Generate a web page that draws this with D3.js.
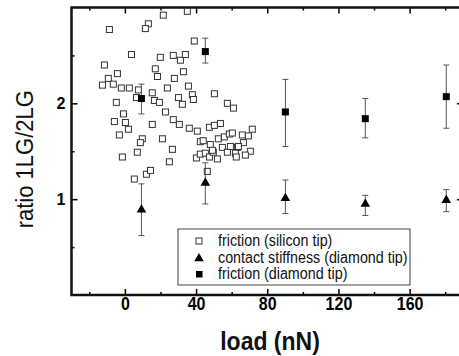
<!DOCTYPE html>
<head>
  <meta charset="utf-8">
  <style>
    body { margin: 0; background: #fff; }
    svg { display: block; font-family: Arial, "Liberation Sans", sans-serif; }
  </style>
  <script src="https://cdn.jsdelivr.net/npm/d3@7"></script>
</head>
<body>
<div id="chart"></div>
<script>
// friction, silicon tip (open squares)
const siliconLoad = [21.6, 35.1, 13.2, 11.5, -8.7, 39.0, 3.7, 19.9, 27.2, 31.2, 34.0, -11.5, 17.1, 18.3, 32.9, -4.2,
  -9.3, 27.8, -12.6, -6.5, -2.0, 2.5, 7.6, 15.4, 23.9, 35.7, 37.9, 50.3, 6.5, 16.6, 19.4, 30.1, 32.3, 38.5, 57.6,
  -4.8, -0.8, 22.8, -5.9, 0.3, 15.4, 27.2, 30.6, 36.2, 40.7, 47.5, 50.3, 53.7, 2.0, -3.1, 9.8, 8.7, 21.1, 42.4,
  48.0, 52.5, 55.9, 58.7, 7.0, 26.7, -1.4, 25.0, 40.2, 42.4, 45.2, 47.5, 52.0, 49.7, 54.8, 57.6, 12.1, 5.3, 46.3,
  61.0, 60.4, 66.0, 69.4, 71.6, 66.6, 63.2, 70.5, 67.7, 62.1, 62.6, 59.3, 63.8, 49.2, 14.4, 44.0]
const siliconRatio = [2.92, 2.96, 2.83, 2.78, 2.77, 2.65, 2.51, 2.48, 2.50, 2.45, 2.51, 2.40, 2.36, 2.28, 2.33, 2.31,
  2.26, 2.26, 2.19, 2.20, 2.16, 2.16, 2.14, 2.11, 2.16, 2.18, 2.09, 2.10, 2.06, 2.03, 2.01, 2.06, 1.99, 2.04, 2.00,
  2.01, 1.89, 1.91, 1.81, 1.80, 1.78, 1.83, 1.78, 1.74, 1.71, 1.75, 1.77, 1.79, 1.73, 1.67, 1.63, 1.59, 1.63, 1.60,
  1.57, 1.63, 1.65, 1.68, 1.49, 1.52, 1.44, 1.39, 1.43, 1.47, 1.48, 1.44, 1.42, 1.49, 1.54, 1.49, 1.26, 1.21, 1.29,
  1.95, 1.69, 1.67, 1.66, 1.73, 1.59, 1.54, 1.50, 1.46, 1.48, 1.44, 1.55, 1.55, 1.51, 1.30, 1.61]

// contact stiffness, diamond tip (triangles)
const stiffLoad = [9.3, 45.2, 90.2, 135.1, 180.6]
const stiffRatio = [0.90, 1.18, 1.02, 0.96, 1.00]
const stiffLow = [0.62, 0.95, 0.85, 0.83, 0.87]
const stiffHigh = [1.16, 1.38, 1.20, 1.04, 1.10]

// friction, diamond tip (filled squares)
const diaLoad = [9.3, 45.2, 90.2, 135.1, 180.6]
const diaRatio = [2.05, 2.54, 1.91, 1.84, 2.07]
const diaLow = [1.89, 2.42, 1.55, 1.64, 1.74]
const diaHigh = [2.20, 2.68, 2.25, 2.05, 2.40]

const xMajor = [0, 40, 80, 120, 160]
const xMinor = [-20, 20, 60, 100, 140, 180]
const yMajor = [1, 2]
const yMinor = [0.5, 1.5, 2.5]
const legendLabels = ['friction (silicon tip)', 'contact stiffness (diamond tip)', 'friction (diamond tip)']

const width = 459, height = 356
const x = d3.scaleLinear().domain([-30, 190]).range([71.5, 463])
const y = d3.scaleLinear().domain([0, 3]).range([295, 7.5])

const svg = d3.select('#chart').append('svg')
  .attr('width', width).attr('height', height)
  .attr('viewBox', [0, 0, width, height])

// the original text is a bit taller than wide
const stretch = 1.12

// axes, ticks pointing inward
const strip = g => g.call(g => g.select('.domain').remove())
const tickStyle = g => g.selectAll('.tick line').attr('stroke', '#000').attr('stroke-width', 1.5)
const labelStyle = g => g.selectAll('text')
  .attr('font-size', 16).attr('font-weight', 'bold').attr('fill', '#000')

svg.append('g').attr('transform', `translate(0,${y(0)})`)
  .call(d3.axisBottom(x).tickValues(xMajor).tickSize(-6).tickPadding(2))
  .call(strip).call(tickStyle).call(labelStyle)
  .call(g => g.selectAll('text').attr('transform', `scale(1,${stretch})`))
svg.append('g').attr('transform', `translate(0,${y(0)})`)
  .call(d3.axisBottom(x).tickValues(xMinor).tickSize(-3).tickFormat(''))
  .call(strip).call(tickStyle)
svg.append('g').attr('transform', `translate(0,${y(3)})`)
  .call(d3.axisTop(x).tickValues(xMajor).tickSize(-6).tickFormat(''))
  .call(strip).call(tickStyle)
svg.append('g').attr('transform', `translate(0,${y(3)})`)
  .call(d3.axisTop(x).tickValues(xMinor).tickSize(-3).tickFormat(''))
  .call(strip).call(tickStyle)

svg.append('g').attr('transform', `translate(${x(-30)},0)`)
  .call(d3.axisLeft(y).tickValues(yMajor).tickSize(-6).tickPadding(6).tickFormat(d3.format('d')))
  .call(strip).call(tickStyle).call(labelStyle)
svg.append('g').attr('transform', `translate(${x(-30)},0)`)
  .call(d3.axisLeft(y).tickValues(yMinor).tickSize(-3).tickFormat(''))
  .call(strip).call(tickStyle)
svg.append('g').attr('transform', `translate(${x(190)},0)`)
  .call(d3.axisRight(y).tickValues(yMajor).tickSize(-6).tickFormat(''))
  .call(strip).call(tickStyle)
svg.append('g').attr('transform', `translate(${x(190)},0)`)
  .call(d3.axisRight(y).tickValues(yMinor).tickSize(-3).tickFormat(''))
  .call(strip).call(tickStyle)

// frame
svg.append('rect')
  .attr('x', x(-30)).attr('y', y(3))
  .attr('width', x(190) - x(-30)).attr('height', y(0) - y(3))
  .attr('fill', 'none').attr('stroke', '#111').attr('stroke-width', 2.5)

// titles
svg.append('text')
  .attr('transform', `translate(33,${(y(0) + y(3)) / 2 + 8}) rotate(-90) scale(1,${stretch})`)
  .attr('text-anchor', 'middle').attr('font-size', 22).attr('fill', '#111')
  .text('ratio 1LG/2LG')
svg.append('text')
  .attr('transform', `translate(270,350) scale(1,${stretch})`)
  .attr('text-anchor', 'middle').attr('font-size', 23).attr('font-weight', 'bold').attr('fill', '#111')
  .text('load (nN)')

const plot = svg.append('g')

// silicon tip friction
plot.append('g').selectAll('rect').data(siliconLoad).join('rect')
  .attr('x', (d, i) => x(d) - 3).attr('y', (d, i) => y(siliconRatio[i]) - 3)
  .attr('width', 6).attr('height', 6)
  .attr('fill', '#fff').attr('stroke', '#333').attr('stroke-width', 1)

// error bars
const errorBars = (loads, low, high) => {
  const g = plot.append('g').attr('stroke', '#555').attr('stroke-width', 1)
  loads.forEach((d, i) => {
    g.append('line').attr('x1', x(d)).attr('x2', x(d)).attr('y1', y(low[i])).attr('y2', y(high[i]))
    g.append('line').attr('x1', x(d) - 3).attr('x2', x(d) + 3).attr('y1', y(low[i])).attr('y2', y(low[i]))
    g.append('line').attr('x1', x(d) - 3).attr('x2', x(d) + 3).attr('y1', y(high[i])).attr('y2', y(high[i]))
  })
}
errorBars(stiffLoad, stiffLow, stiffHigh)
errorBars(diaLoad, diaLow, diaHigh)

const triangle = d3.symbol().type(d3.symbolTriangle).size(40)
plot.append('g').selectAll('path').data(stiffLoad).join('path')
  .attr('transform', (d, i) => `translate(${x(d)},${y(stiffRatio[i]) + 1})`)
  .attr('d', triangle).attr('fill', '#000')

plot.append('g').selectAll('rect').data(diaLoad).join('rect')
  .attr('x', d => x(d) - 3.5).attr('y', (d, i) => y(diaRatio[i]) - 3.5)
  .attr('width', 7).attr('height', 7).attr('fill', '#000')

// legend
const legend = svg.append('g').attr('transform', 'translate(178,229)')
legend.append('rect').attr('width', 232).attr('height', 56)
  .attr('fill', '#fff').attr('stroke', '#444').attr('stroke-width', 1)
const rows = legend.selectAll('g').data(legendLabels).join('g')
  .attr('transform', (d, i) => `translate(0,${12 + i * 16.5})`)
rows.append('text').attr('x', 40).attr('y', 0)
  .attr('transform', `translate(0,5) scale(1,${stretch})`)
  .attr('font-size', 14.3).attr('fill', '#111').text(d => d)
rows.filter((d, i) => i === 0).append('rect')
  .attr('x', 18).attr('y', -3).attr('width', 6).attr('height', 6)
  .attr('fill', '#fff').attr('stroke', '#333')
rows.filter((d, i) => i === 1).append('path')
  .attr('transform', 'translate(21,1)').attr('d', triangle).attr('fill', '#000')
rows.filter((d, i) => i === 2).append('rect')
  .attr('x', 18).attr('y', -3).attr('width', 6.5).attr('height', 6.5).attr('fill', '#000')
</script>
</body>
